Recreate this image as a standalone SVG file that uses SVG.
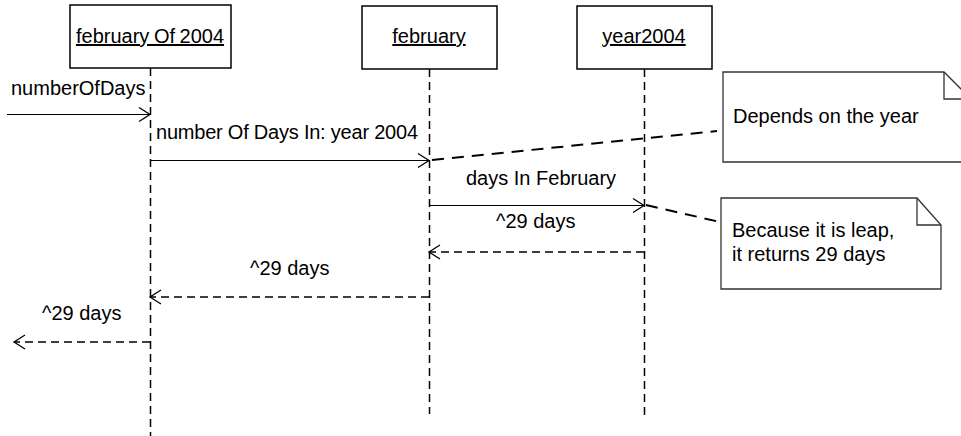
<svg xmlns="http://www.w3.org/2000/svg" width="961" height="436" viewBox="0 0 961 436">
  <style>
    text { font-family: "Liberation Sans", Arial, sans-serif; font-size: 20px; fill: #000; }
    .obj { fill: #fff; stroke: #000; stroke-width: 1.5; }
    .title { text-anchor: middle; text-decoration: underline; }
    .life { stroke: #000; stroke-width: 1.5; stroke-dasharray: 8 5; fill: none; }
    .msg { stroke: #000; stroke-width: 1.2; fill: none; }
    .ret { stroke: #000; stroke-width: 1.5; stroke-dasharray: 8 5; fill: none; }
    .anchor { stroke: #000; stroke-width: 2; stroke-dasharray: 12 8; fill: none; }
    .note { fill: #fff; stroke: #333; stroke-width: 1.3; }
    .fold { fill: none; stroke: #333; stroke-width: 1.3; }
    .head { fill: none; stroke: #000; stroke-width: 1.3; }
  </style>

  <!-- lifelines -->
  <g id="lifelines">
    <line class="life" x1="150.5" y1="68" x2="150.5" y2="436"/>
    <line class="life" x1="429.5" y1="69" x2="429.5" y2="414"/>
    <line class="life" x1="644.5" y1="69" x2="644.5" y2="420"/>
  </g>

  <!-- objects -->
  <g id="februaryOf2004">
    <rect class="obj" x="70" y="5" width="161" height="63"/>
    <text class="title" x="150" y="43" word-spacing="-1">february Of 2004</text>
  </g>
  <g id="february">
    <rect class="obj" x="362" y="6" width="135" height="63"/>
    <text class="title" x="429" y="43">february</text>
  </g>
  <g id="year2004">
    <rect class="obj" x="577" y="6" width="135" height="63"/>
    <text class="title" x="644" y="43">year2004</text>
  </g>

  <!-- notes -->
  <g id="note-depends">
    <path class="note" d="M723,72 H944 L971,99 V162 H723 Z"/>
    <path class="fold" d="M944,72 V99 H971"/>
    <text x="733" y="123">Depends on the year</text>
  </g>
  <g id="note-leap">
    <path class="note" d="M721,198 H917 L941,225 V289 H721 Z"/>
    <path class="fold" d="M917,198 V225 H941"/>
    <text x="732" y="237">Because it is leap,</text>
    <text x="732" y="261">it returns 29 days</text>
  </g>

  <!-- connectors -->
  <g id="connectors">
    <!-- numberOfDays -->
    <line class="msg" x1="7" y1="114.5" x2="150" y2="114.5"/>
    <path class="head" d="M139,107.5 L150,114.5 L139,121.5"/>
    <text x="11" y="95">numberOfDays</text>

    <!-- number Of Days In: year 2004 -->
    <line class="msg" x1="150" y1="160.5" x2="429" y2="160.5"/>
    <path class="head" d="M418,153.5 L429,160.5 L418,167.5"/>
    <text x="156" y="139" textLength="262" lengthAdjust="spacing">number Of Days In: year 2004</text>

    <!-- days In February -->
    <line class="msg" x1="429" y1="205.5" x2="644" y2="205.5"/>
    <path class="head" d="M633,198.5 L644,205.5 L633,212.5"/>
    <text x="466" y="185">days In February</text>

    <!-- replies -->
    <line class="ret" x1="644" y1="252" x2="429" y2="252"/>
    <path class="head" d="M440,245 L429,252 L440,259"/>
    <text x="496" y="228">^29 days</text>

    <line class="ret" x1="429" y1="297" x2="150" y2="297"/>
    <path class="head" d="M161,290 L150,297 L161,304"/>
    <text x="250" y="275">^29 days</text>

    <line class="ret" x1="150" y1="342" x2="14" y2="342"/>
    <path class="head" d="M25,335 L14,342 L25,349"/>
    <text x="42" y="320">^29 days</text>

    <!-- note anchors -->
    <line class="anchor" x1="432" y1="160" x2="717" y2="131"/>
    <line class="anchor" x1="646" y1="205" x2="720" y2="222"/>
  </g>
</svg>
